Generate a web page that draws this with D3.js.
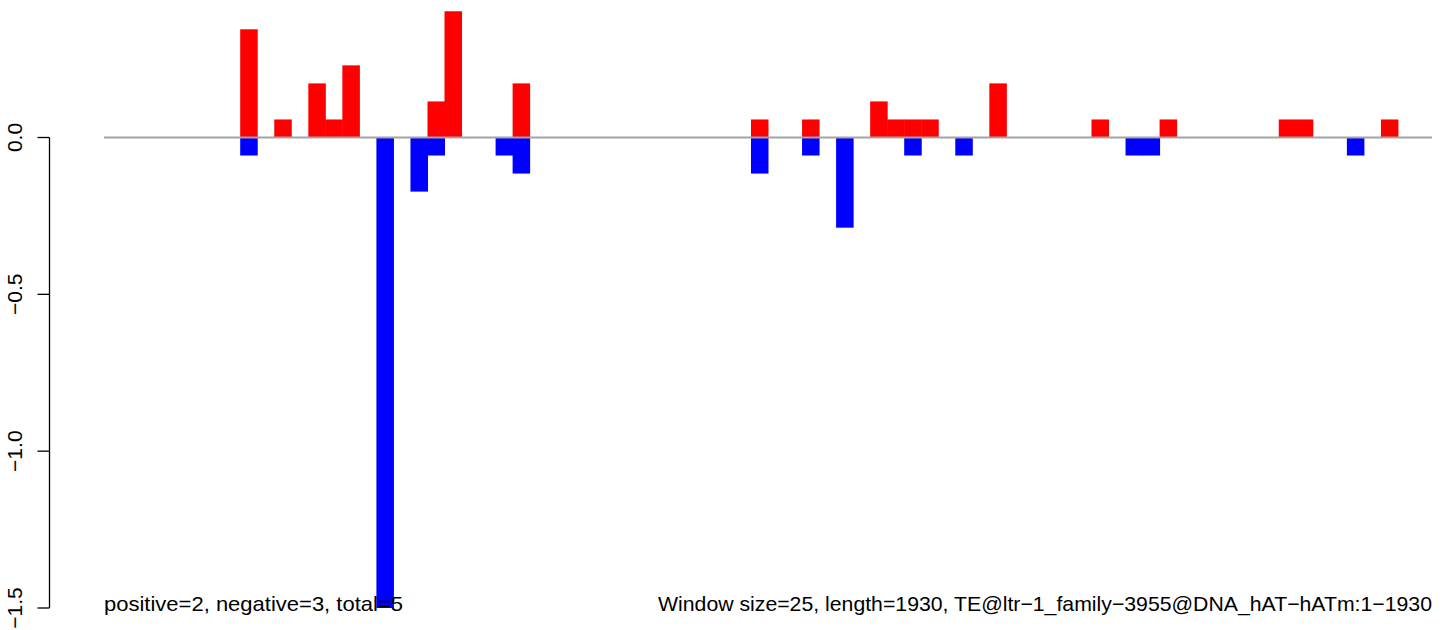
<!DOCTYPE html>
<html>
<head>
<meta charset="utf-8">
<script src="https://cdn.jsdelivr.net/npm/d3@7"></script>
<style>
  html, body { margin: 0; padding: 0; background: #ffffff; }
  svg { display: block; }
  text { font-family: "Liberation Sans", Arial, Helvetica, sans-serif; fill: #000; }
</style>
</head>
<body>
<svg id="chart" width="1444" height="630"></svg>
<script>
// ---- data ----
const windowCount = 78;           // 1930 / 25 windows
const posWindows = [8, 10, 12, 13, 14, 19, 20, 24, 38, 41, 45, 46, 47, 48, 52, 58, 62, 69, 70, 75];
const posValues  = [0.345, 0.0575, 0.1725, 0.0575, 0.23, 0.115, 0.4025, 0.1725, 0.0575, 0.0575, 0.115, 0.0575, 0.0575, 0.0575, 0.1725, 0.0575, 0.0575, 0.0575, 0.0575, 0.0575];
const negWindows = [8, 16, 18, 19, 23, 24, 38, 41, 43, 47, 50, 60, 61, 73];
const negValues  = [-0.0575, -1.5, -0.1725, -0.0575, -0.0575, -0.115, -0.115, -0.0575, -0.2875, -0.0575, -0.0575, -0.0575, -0.0575, -0.0575];
const yTicks = [0.0, -0.5, -1.0, -1.5];
const yTickLabels = ["0.0", "\u22120.5", "\u22121.0", "\u22121.5"];
const leftNote = "positive=2, negative=3, total=5";
const rightNote = "Window size=25, length=1930, TE@ltr\u22121_family\u22123955@DNA_hAT\u2212hATm:1\u22121930";

// ---- layout ----
const svg = d3.select("#chart");
const plotLeft = 104, plotRight = 1432;
const x = d3.scaleBand().domain(d3.range(windowCount)).range([plotLeft, plotRight]).paddingInner(0).paddingOuter(0);
const y = d3.scaleLinear().domain([-1.5, 0]).range([608, 137.5]);

const pos = posWindows.map((w, i) => ({w, v: posValues[i]}));
const neg = negWindows.map((w, i) => ({w, v: negValues[i]}));

svg.append("g").selectAll("rect").data(pos).join("rect")
  .attr("x", d => x(d.w)).attr("width", x.bandwidth() + 0.5)
  .attr("y", d => y(d.v)).attr("height", d => y(0) - y(d.v))
  .attr("fill", "#FF0000");

svg.append("g").selectAll("rect").data(neg).join("rect")
  .attr("x", d => x(d.w)).attr("width", x.bandwidth() + 0.5)
  .attr("y", y(0)).attr("height", d => y(d.v) - y(0))
  .attr("fill", "#0000FF");

// zero line
svg.append("line")
  .attr("x1", plotLeft).attr("x2", plotRight)
  .attr("y1", y(0)).attr("y2", y(0))
  .attr("stroke", "#A4A4A4").attr("stroke-width", 1.8);

// y axis (R style)
const axisX = 49.5;
const ag = svg.append("g");
ag.append("line").attr("x1", axisX).attr("x2", axisX)
  .attr("y1", y(0)).attr("y2", y(-1.5))
  .attr("stroke", "#000").attr("stroke-width", 1.3);
ag.selectAll("line.tick").data(yTicks).join("line").attr("class", "tick")
  .attr("x1", axisX - 12).attr("x2", axisX)
  .attr("y1", d => y(d)).attr("y2", d => y(d))
  .attr("stroke", "#000").attr("stroke-width", 1.3);
ag.selectAll("text").data(yTicks).join("text")
  .attr("transform", d => `translate(22,${y(d)}) rotate(-90)`)
  .attr("text-anchor", "middle")
  .attr("font-size", 21)
  .text((d, i) => yTickLabels[i]);

// notes
svg.append("text").attr("x", plotLeft).attr("y", 611)
  .attr("font-size", 21)
  .attr("textLength", 299).attr("lengthAdjust", "spacingAndGlyphs")
  .text(leftNote);
svg.append("text").attr("x", 658).attr("y", 611)
  .attr("font-size", 21)
  .attr("textLength", 774).attr("lengthAdjust", "spacingAndGlyphs")
  .text(rightNote);
</script>
</body>
</html>
